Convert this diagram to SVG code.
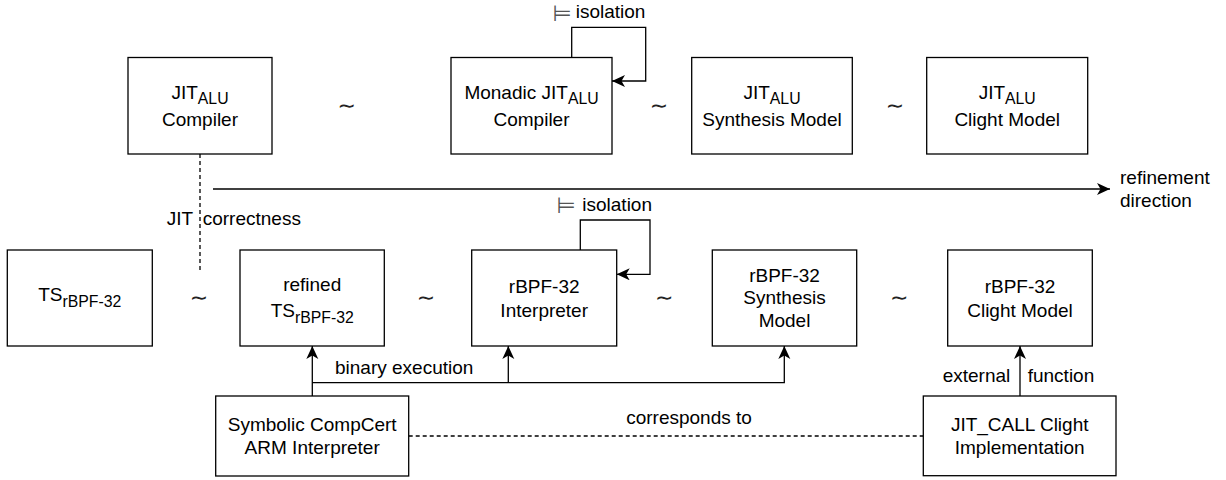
<svg xmlns="http://www.w3.org/2000/svg" width="1226" height="480" viewBox="0 0 1226 480">
<style>
.box{fill:#fff;stroke:#000;stroke-width:1.3}
.t{font-family:"Liberation Sans",Arial,sans-serif;font-size:19px;fill:#000}
.c{text-anchor:middle}
.sub{font-size:15.8px}
.e{fill:none;stroke:#000;stroke-width:1.3}
.d{stroke-dasharray:4 3}
.sim{font-family:"DejaVu Sans",sans-serif;font-size:22px;text-anchor:middle;fill:#222}
.tu{font-family:"DejaVu Sans",sans-serif;font-size:22px;fill:#555}
</style>
<defs>
<marker id="arr" markerUnits="userSpaceOnUse" markerWidth="16" markerHeight="14" refX="13" refY="6" orient="auto">
<path d="M0,0 L13,6 L0,12 L3.5,6 Z" fill="#000"/>
</marker>
</defs>
<g id="connectors">
<path class="e d" d="M200,154 V273"/>
<path class="e" d="M213,189 H1110" marker-end="url(#arr)"/>
<path class="e" d="M571.7,57.5 V27.3 H645.7 V81 H612" marker-end="url(#arr)"/>
<path class="e" d="M580.3,250 V220 H650 V274.3 H616.7" marker-end="url(#arr)"/>
<path class="e" d="M312.3,396 V346" marker-end="url(#arr)"/>
<path class="e" d="M312.3,382.7 H784.3 V346" marker-end="url(#arr)"/>
<path class="e" d="M508.3,382.7 V346" marker-end="url(#arr)"/>
<path class="e" d="M1020,396 V346" marker-end="url(#arr)"/>
<path class="e d" d="M408.7,436 H923.3"/>
<text class="t" x="552.5" y="20.5"><tspan class="tu">⊨</tspan><tspan x="575.7" y="18.3">isolation</tspan></text>
<text class="t" x="556.5" y="212.9"><tspan class="tu">⊨</tspan><tspan x="582.3" y="210.7">isolation</tspan></text>
<text class="t" x="166.7" y="225">JIT<tspan x="202.7">correctness</tspan></text>
<text class="t" x="1120" y="183.5">refinement</text>
<text class="t" x="1120" y="206.5">direction</text>
<text class="t" x="335" y="373.8">binary execution</text>
<text class="t" x="942.7" y="382.3">external</text>
<text class="t" x="1027.7" y="382.3">function</text>
<text class="t c" x="689" y="424.3">corresponds to</text>
</g>
<g id="sims">
<text class="sim" x="346.7" y="112.5">∼</text>
<text class="sim" x="659" y="112.5">∼</text>
<text class="sim" x="895" y="112.5">∼</text>
<text class="sim" x="199" y="304.5">∼</text>
<text class="sim" x="426" y="304.5">∼</text>
<text class="sim" x="664.3" y="304.5">∼</text>
<text class="sim" x="899.3" y="304.5">∼</text>
</g>
<g id="jit-alu-compiler">
<rect class="box" x="128" y="57.5" width="144" height="96.5"/>
<text class="t c" x="200" y="99.3">JIT<tspan class="sub" dy="4.7">ALU</tspan></text>
<text class="t c" x="200" y="126">Compiler</text>
</g>
<g id="monadic-jit-alu-compiler">
<rect class="box" x="451" y="57.5" width="161" height="96.5"/>
<text class="t c" x="531.5" y="99.3">Monadic JIT<tspan class="sub" dy="4.7">ALU</tspan></text>
<text class="t c" x="531.5" y="126">Compiler</text>
</g>
<g id="jit-alu-synthesis-model">
<rect class="box" x="691.7" y="57.5" width="160.6" height="96.5"/>
<text class="t c" x="772" y="99.3">JIT<tspan class="sub" dy="4.7">ALU</tspan></text>
<text class="t c" x="772" y="126">Synthesis Model</text>
</g>
<g id="jit-alu-clight-model">
<rect class="box" x="926.7" y="57.5" width="161" height="96.5"/>
<text class="t c" x="1007.2" y="99.3">JIT<tspan class="sub" dy="4.7">ALU</tspan></text>
<text class="t c" x="1007.2" y="126">Clight Model</text>
</g>
<g id="ts-rbpf32">
<rect class="box" x="7.3" y="250" width="145" height="96"/>
<text class="t c" x="79.8" y="301">TS<tspan class="sub" dy="6.3">rBPF-32</tspan></text>
</g>
<g id="refined-ts-rbpf32">
<rect class="box" x="240" y="250" width="144.3" height="96"/>
<text class="t c" x="312.2" y="290.7">refined</text>
<text class="t c" x="312.2" y="316.7">TS<tspan class="sub" dy="6.3">rBPF-32</tspan></text>
</g>
<g id="rbpf32-interpreter">
<rect class="box" x="471.7" y="250" width="145" height="96"/>
<text class="t c" x="544.2" y="293.3">rBPF-32</text>
<text class="t c" x="544.2" y="316.7">Interpreter</text>
</g>
<g id="rbpf32-synthesis-model">
<rect class="box" x="712.3" y="250" width="144.4" height="96"/>
<text class="t c" x="784.5" y="281.5">rBPF-32</text>
<text class="t c" x="784.5" y="304">Synthesis</text>
<text class="t c" x="784.5" y="326.5">Model</text>
</g>
<g id="rbpf32-clight-model">
<rect class="box" x="947.7" y="250" width="144.6" height="96"/>
<text class="t c" x="1020" y="293.3">rBPF-32</text>
<text class="t c" x="1020" y="316.7">Clight Model</text>
</g>
<g id="symbolic-compcert">
<rect class="box" x="215.7" y="396" width="193" height="80"/>
<text class="t c" x="312.2" y="431">Symbolic CompCert</text>
<text class="t c" x="312.2" y="454.3">ARM Interpreter</text>
</g>
<g id="jit-call-clight">
<rect class="box" x="923.3" y="396" width="192.7" height="79.7"/>
<text class="t c" x="1019.7" y="430.5">JIT_CALL Clight</text>
<text class="t c" x="1019.7" y="453.8">Implementation</text>
</g>
</svg>
